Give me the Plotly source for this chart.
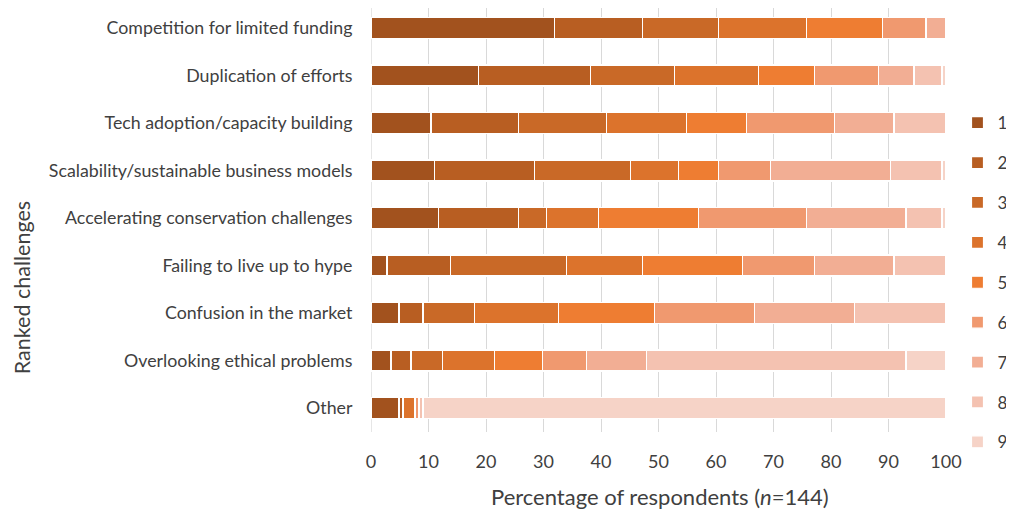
import plotly.graph_objects as go

categories = [
    "Competition for limited funding",
    "Duplication of efforts",
    "Tech adoption/capacity building",
    "Scalability/sustainable business models",
    "Accelerating conservation challenges",
    "Failing to live up to hype",
    "Confusion in the market",
    "Overlooking ethical problems",
    "Other",
]
N = 144
# respondent counts per rank (1..9) for each challenge, same order as categories
rank1 = [46, 27, 15, 16, 17, 4, 7, 5, 7]
rank2 = [22, 28, 22, 25, 20, 16, 6, 5, 1]
rank3 = [19, 21, 22, 24, 7, 29, 13, 8, 0]
rank4 = [22, 21, 20, 12, 13, 19, 21, 13, 3]
rank5 = [19, 14, 15, 10, 25, 25, 24, 12, 0]
rank6 = [11, 16, 22, 13, 27, 18, 25, 11, 1]
rank7 = [5, 9, 15, 30, 25, 20, 25, 15, 0]
rank8 = [0, 7, 13, 13, 9, 13, 23, 65, 1]
rank9 = [0, 1, 0, 1, 1, 0, 0, 10, 131]
ranks = [rank1, rank2, rank3, rank4, rank5, rank6, rank7, rank8, rank9]
rank_names = ["1", "2", "3", "4", "5", "6", "7", "8", "9"]
colors = ["#A2521E", "#B85E22", "#C96927", "#DC732C", "#EE7D32",
          "#F0996F", "#F2AE94", "#F4C2B1", "#F6D3C7"]

FONT = "Lato"
fig = go.Figure()
for name, counts, col in zip(rank_names, ranks, colors):
    fig.add_trace(go.Bar(
        y=categories,
        x=[c / N * 100 for c in counts],
        name=name,
        orientation="h",
        marker=dict(color=col, line=dict(color="white", width=1.2)),
        legendgroup=name,
    ))

# page has an 8px body margin, so the figure is sized 1006x504
fig.update_layout(
    barmode="stack",
    bargap=0.56,
    width=1006, height=504,
    margin=dict(l=363, r=68, t=0, b=80, autoexpand=False),
    paper_bgcolor="white", plot_bgcolor="white",
    font=dict(family=FONT, size=17.8, color="#404040"),
    legend=dict(
        x=1.02, xanchor="left", y=0.771, yanchor="top",
        traceorder="grouped", tracegroupgap=14.8,
        font=dict(size=17, color="#404040"),
        bgcolor="rgba(0,0,0,0)",
        itemwidth=30,
    ),
    showlegend=True,
)
fig.update_xaxes(
    range=[0, 100], dtick=10,
    showgrid=True, gridcolor="#D9D9D9", gridwidth=1.3,
    zeroline=False, showline=False,
    ticks="outside", ticklen=13, tickcolor="rgba(0,0,0,0)",
    tickfont=dict(size=18, color="#404040"),
)
fig.update_yaxes(
    categoryorder="array", categoryarray=categories[::-1],
    range=[-0.505, 8.421],
    showgrid=False, zeroline=False, showline=False,
    ticks="outside", ticklen=14, tickcolor="rgba(0,0,0,0)",
    tickfont=dict(size=17.8, color="#404040"),
)
# the 0 line
fig.add_vline(x=0, line=dict(color="#D9D9D9", width=1.3), layer="below")

fig.add_annotation(
    text="Percentage of respondents (<i>n</i>=144)",
    xref="paper", yref="paper", x=0.503, y=-0.153, yanchor="middle",
    showarrow=False, font=dict(size=22, color="#404040", family=FONT),
)
fig.add_annotation(
    text="Ranked challenges",
    xref="paper", yref="paper", x=-0.608, y=0.34, xanchor="center", yanchor="middle",
    textangle=-90, showarrow=False, font=dict(size=21.5, color="#404040", family=FONT),
)

fig.write_html("out.html")
